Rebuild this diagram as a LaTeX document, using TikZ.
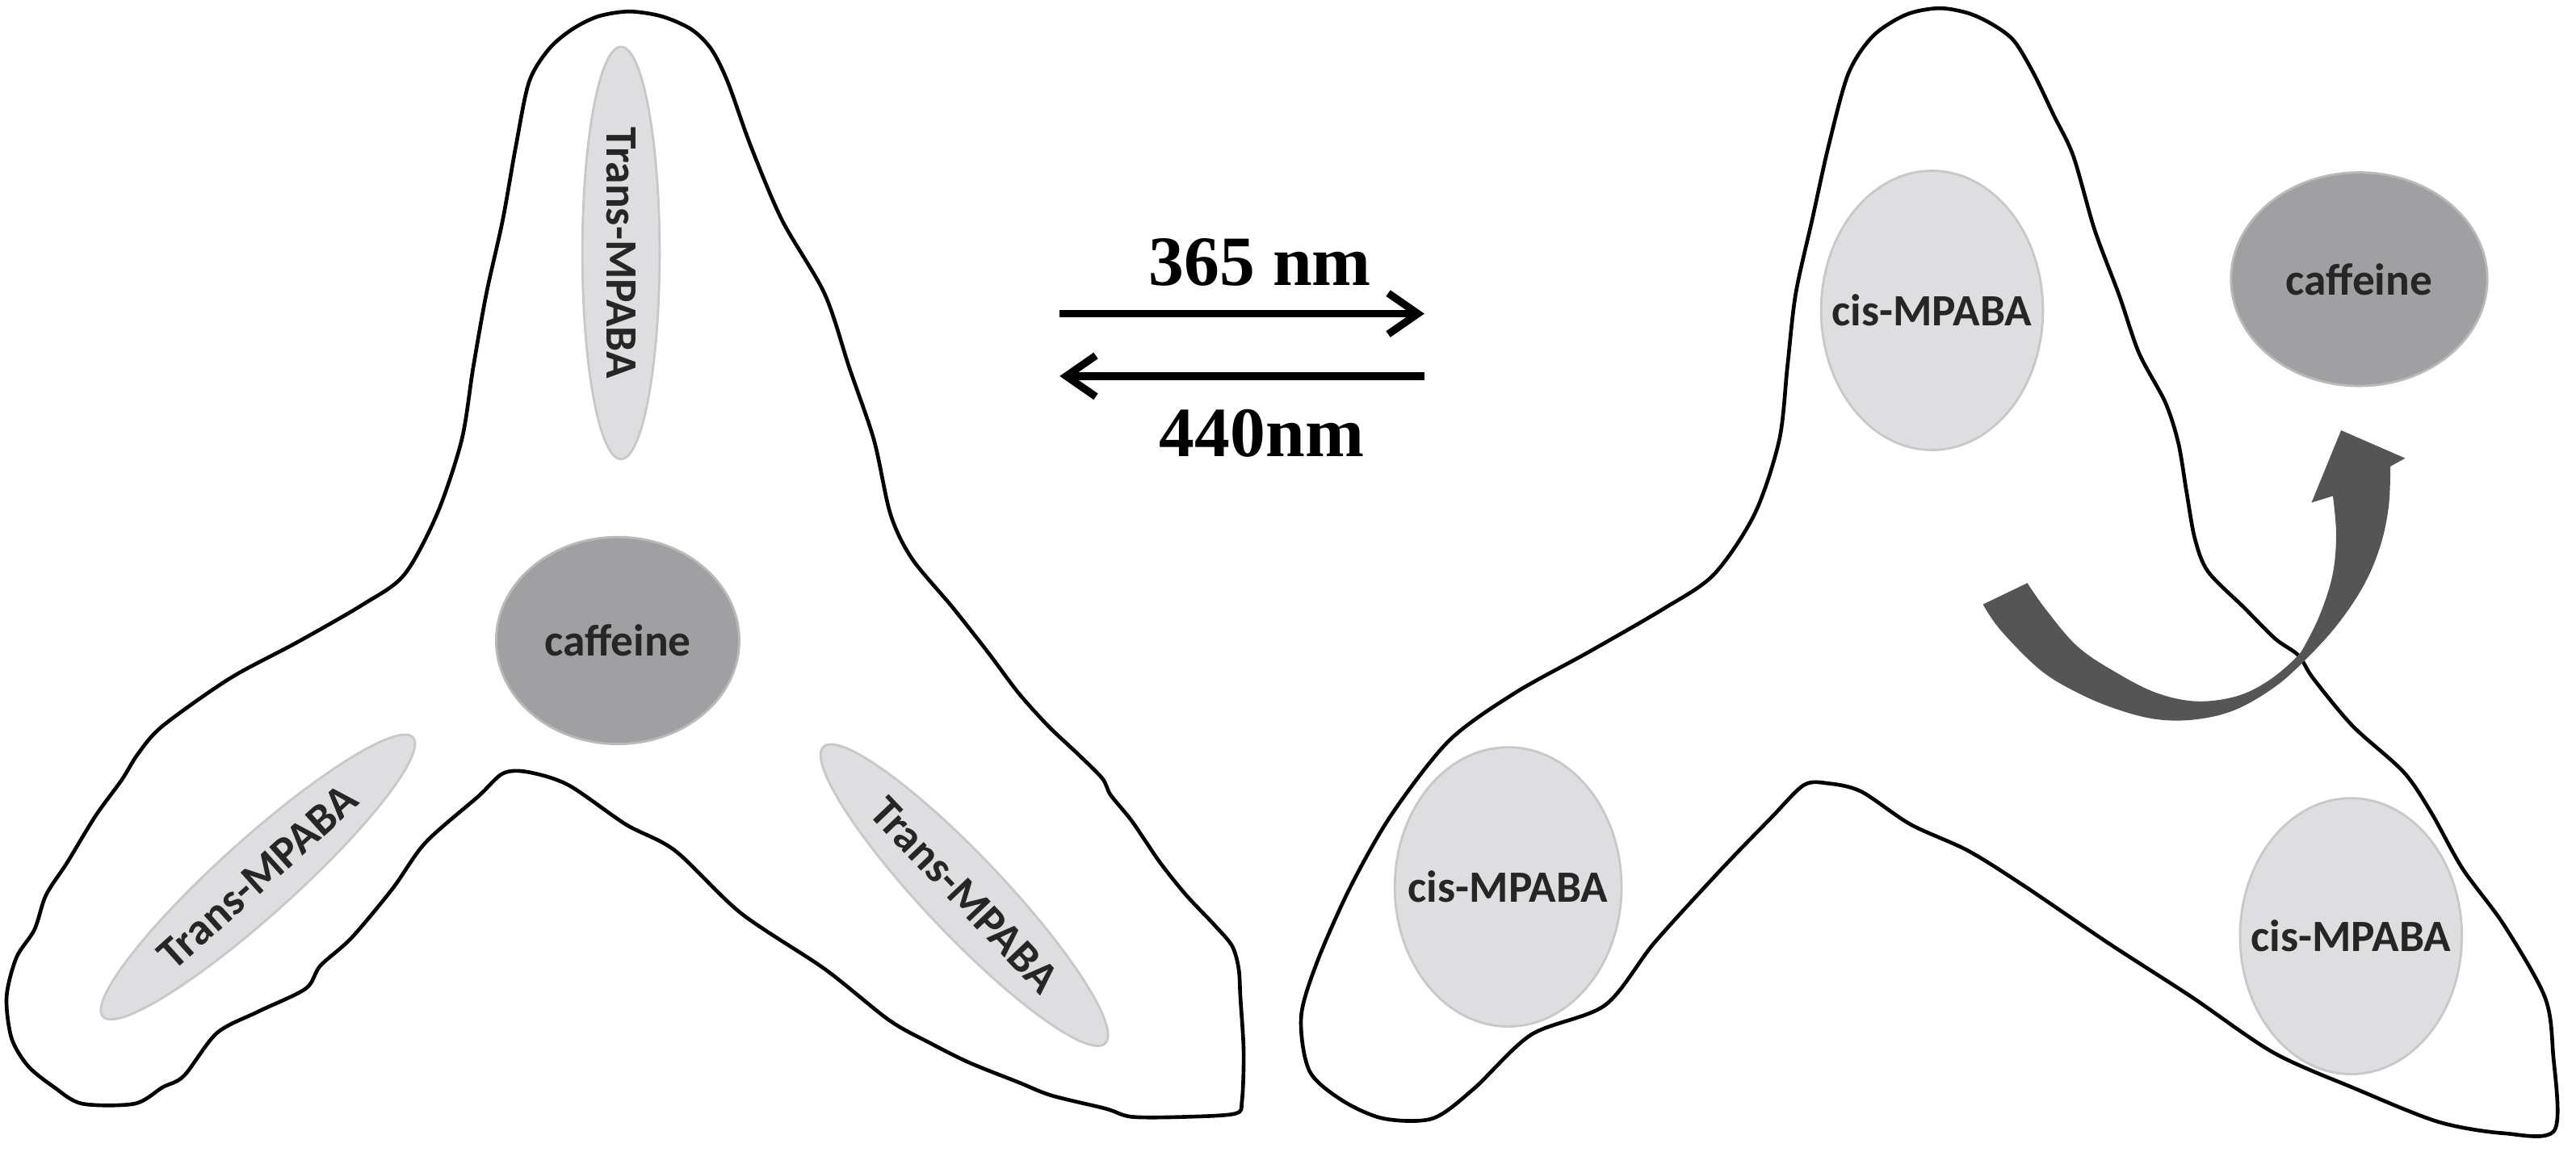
\documentclass[tikz,border=0pt]{standalone}
\usepackage{fontspec}
\setmainfont{Liberation Serif}
\newfontfamily\labelfont{Carlito}
\usetikzlibrary{shapes.geometric,arrows.meta}

\definecolor{mpabagray}{RGB}{222,222,224}
\definecolor{mpabaedge}{RGB}{200,200,200}
\definecolor{caffgray}{RGB}{160,160,162}
\definecolor{caffedge}{RGB}{185,185,185}
\definecolor{bendgray}{RGB}{85,85,85}

% keep the label from widening the ellipse
\newcommand{\mol}[1]{\makebox[0pt]{#1}}

\tikzset{
  cell/.style={draw=black, line width=1.3pt, line join=round},
  mpaba/.style={ellipse, draw=mpabaedge, line width=0.8pt, fill=mpabagray, inner sep=0pt,
    font=\labelfont\bfseries\fontsize{15.5}{17}\selectfont, text=black!85},
  caff/.style={mpaba, fill=caffgray, draw=caffedge},
  wave/.style={font=\bfseries\fontsize{24.5}{27}\selectfont, anchor=base, inner sep=0pt},
  light/.style={line width=2.6pt, -{Straight Barb[length=3.6mm,width=5mm]}}
}

\begin{document}
\begin{tikzpicture}[x=0.2mm, y=0.2mm]
        \useasboundingbox (0,0) rectangle (1568,-701);

        % Draw the molecules in the left cell
        \node[mpaba, minimum width=50.2mm, minimum height=9.4mm, rotate=-90] (transtop) at (378,-154) {\mol{Trans-MPABA}};
        \node[mpaba, minimum width=50.8mm, minimum height=9.2mm, rotate=42] (transleft) at (157,-534) {\mol{Trans-MPABA}};
        \node[mpaba, minimum width=49.8mm, minimum height=9.6mm, rotate=-46.5] (transright) at (587,-545) {\mol{Trans-MPABA}};
        \node[caff, minimum width=29.6mm, minimum height=25.2mm] (caffin) at (376,-390) {\mol{caffeine}};

        % Draw the molecules in the right cell
        \node[mpaba, minimum width=27mm, minimum height=34mm] (cistop) at (1176,-189) {\mol{cis-MPABA}};
        \node[mpaba, minimum width=27.6mm, minimum height=34mm] (cisleft) at (918,-540) {\mol{cis-MPABA}};
        \node[mpaba, minimum width=27mm, minimum height=33.6mm] (cisright) at (1431,-570) {\mol{cis-MPABA}};
        \node[caff, minimum width=31.2mm, minimum height=26mm] (caffout) at (1436,-170) {\mol{caffeine}};

        % Draw the left cell
        \draw[cell] plot[smooth cycle, tension=0.5] coordinates {
          (383,-7) (403,-10) (421,-18) (433,-30) (443,-50) (457,-89) (476,-134) (502,-179)
          (517,-224) (532,-268) (542,-313) (555,-340) (580,-370) (602,-398) (620,-422) (638,-442)
          (656,-459) (671,-474) (676,-484) (689,-500) (706,-525) (722,-545) (739,-563) (750,-576)
          (754,-590) (755,-607) (757,-640) (756,-670) (752,-678) (722,-680) (689,-680) (673,-675)
          (640,-667) (620,-659) (590,-647) (566,-635) (541,-621) (502,-590) (451,-556) (411,-518)
          (381,-502) (346,-478) (321,-470) (306,-471) (291,-485) (259,-513) (239,-541) (214,-571)
          (195,-588) (186,-602) (157,-616) (132,-629) (112,-655) (99,-662) (82,-672) (50,-672)
          (33,-662) (17,-649) (7,-632) (4,-607) (10,-583) (21,-566) (28,-545) (41,-525)
          (58,-497) (74,-475) (84,-459) (99,-442) (140,-413) (181,-391) (221,-368) (246,-350)
          (266,-313) (281,-268) (288,-224) (296,-179) (306,-134) (314,-89) (322,-50) (334,-30)
          (348,-18) (364,-10)};

        % Draw the right cell
        \draw[cell] plot[smooth cycle, tension=0.5] coordinates {
          (1180,-5) (1198,-8) (1213,-15) (1226,-25) (1238,-45) (1250,-70) (1262,-95) (1275,-140)
          (1290,-180) (1302,-215) (1318,-245) (1326,-270) (1331,-300) (1336,-328) (1344,-348) (1366,-370)
          (1385,-389) (1399,-399) (1408,-413) (1432,-442) (1463,-470) (1480,-495) (1499,-529) (1524,-563)
          (1549,-607) (1554,-641) (1555,-688) (1524,-690) (1484,-683) (1434,-663) (1384,-641) (1334,-607)
          (1283,-574) (1233,-540) (1198,-518) (1163,-502) (1133,-482) (1113,-477) (1098,-478) (1078,-498)
          (1048,-529) (1007,-574) (977,-612) (932,-630) (897,-663) (872,-681) (842,-681) (817,-670)
          (797,-652) (792,-619) (802,-585) (822,-540) (847,-496) (882,-451) (922,-422) (967,-397)
          (1012,-371) (1043,-350) (1068,-313) (1083,-268) (1088,-223) (1093,-179) (1103,-134) (1113,-89)
          (1125,-45) (1140,-22) (1160,-9)};

        % Draw the switching arrows and wavelengths
        \coordinate (fwdL) at (645,-191);
        \coordinate (fwdR) at (867,-191);
        \coordinate (bwdL) at (645,-229);
        \coordinate (bwdR) at (867,-229);
        \draw[light] (fwdL) -- (fwdR);
        \draw[light] (bwdR) -- (bwdL);
        \node[wave] (uv) at (767,-174) {365 nm};
        \node[wave] (blue) at (768,-278) {440nm};

        % Draw the release arrow of caffeine
        \fill[bendgray] plot[smooth, tension=0.6] coordinates {
            (1207,-368) (1218,-384) (1242,-408) (1265,-422) (1289,-432) (1313,-438) (1337,-438)
            (1361,-432) (1385,-418) (1404,-401) (1423,-380) (1439,-356) (1449,-332) (1454,-308) (1455,-284)}
          -- (1464,-279) -- (1425,-262) -- (1407,-306) -- (1420,-302)
          -- plot[smooth, tension=0.6] coordinates {
            (1420,-302) (1422,-325) (1420,-349) (1413,-372) (1404,-391) (1397,-401) (1380,-415)
            (1361,-424) (1337,-427) (1313,-422) (1289,-410) (1265,-394) (1246,-372) (1234,-355)}
          -- cycle;
    \end{tikzpicture}
\end{document}
